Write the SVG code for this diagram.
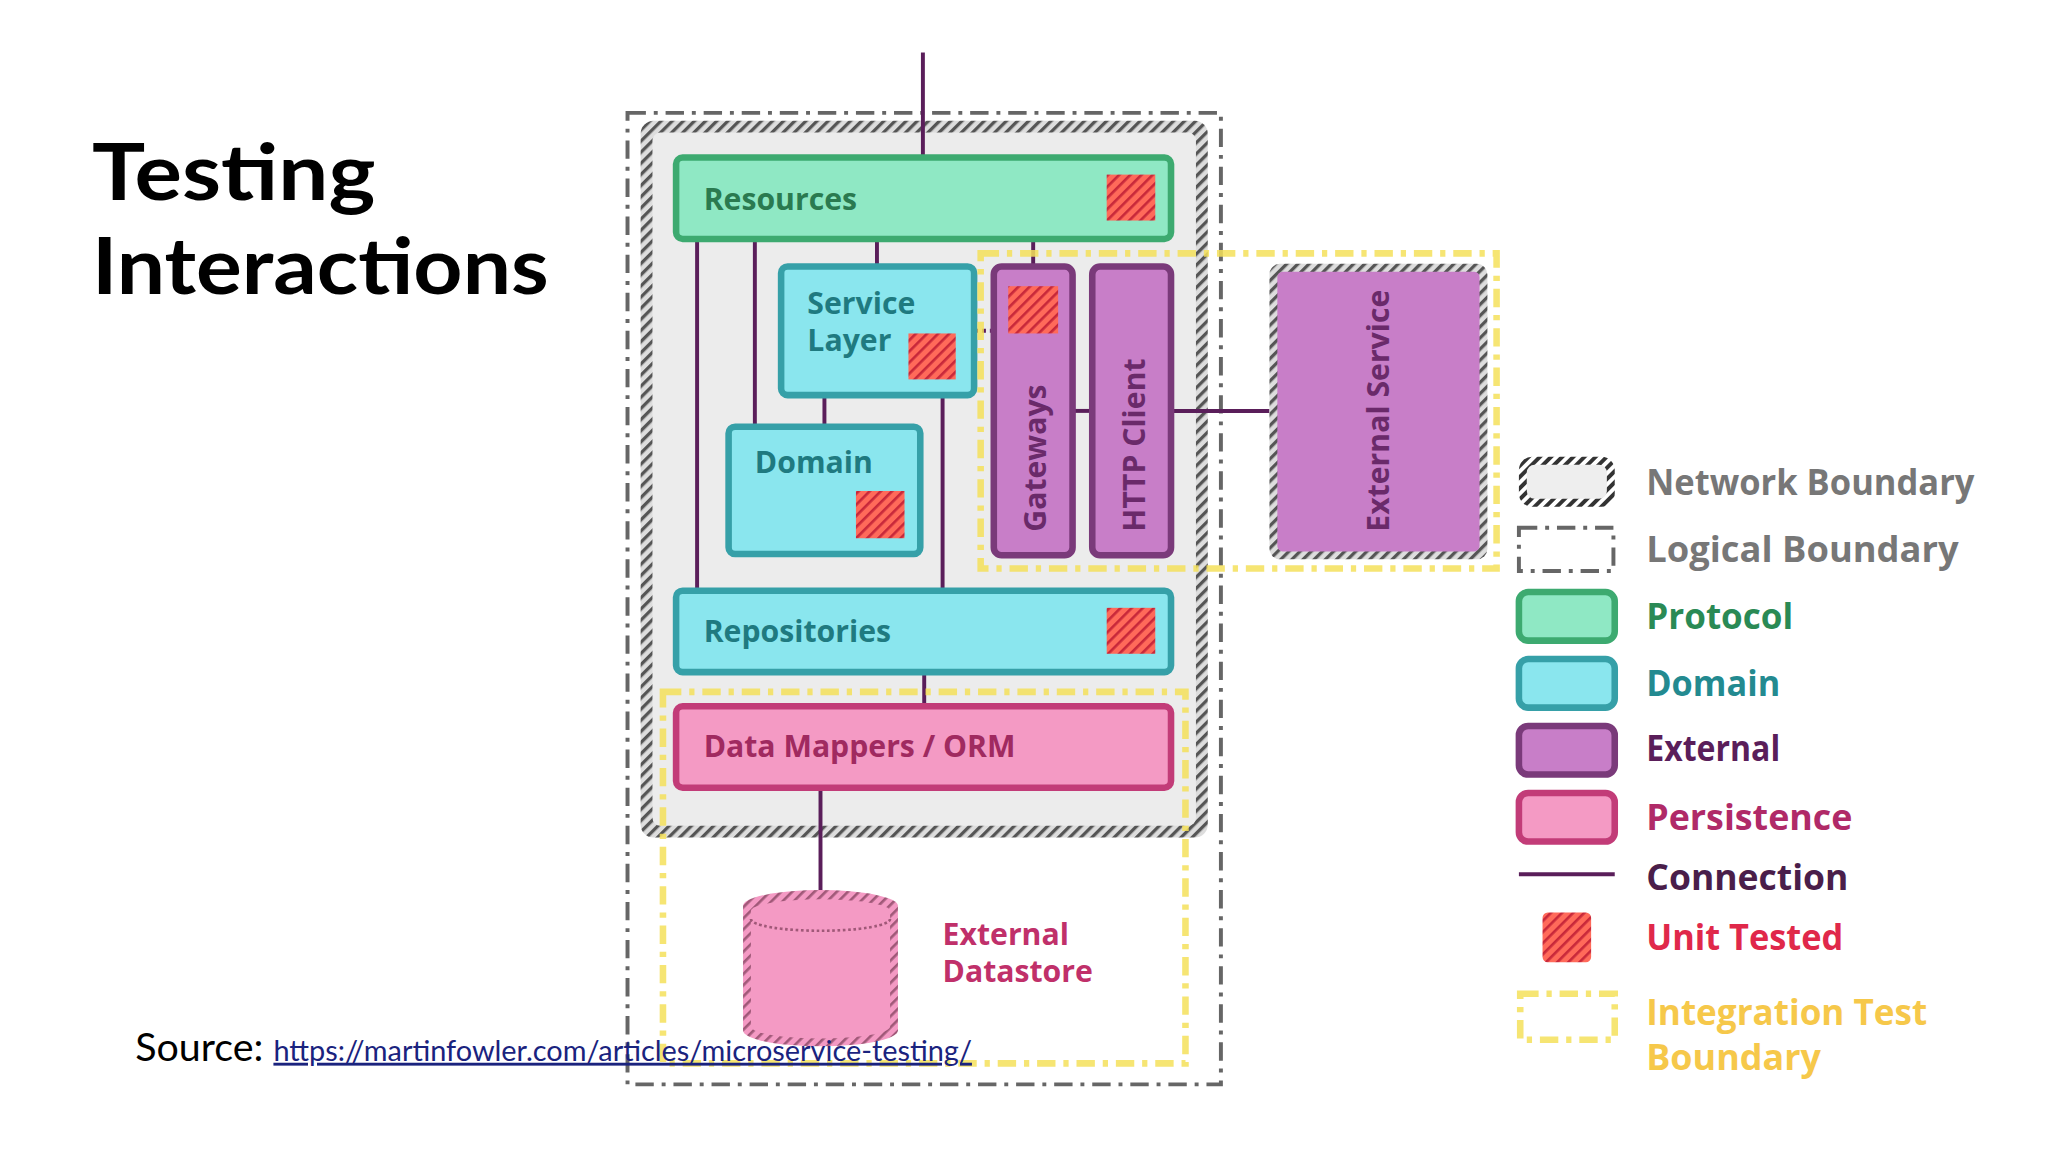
<svg xmlns="http://www.w3.org/2000/svg" width="2048" height="1152" viewBox="0 0 2048 1152">
<defs>
<pattern id="red" width="6" height="6" patternUnits="userSpaceOnUse" patternTransform="rotate(45)"><rect width="6" height="6" fill="#ff6a5a"/><rect width="2" height="6" fill="#c8283a"/></pattern>
<pattern id="bw" width="6" height="6" patternUnits="userSpaceOnUse" patternTransform="rotate(45)"><rect width="6" height="6" fill="#fff"/><rect width="3" height="6" fill="#333"/></pattern>
<pattern id="pk" width="6" height="6" patternUnits="userSpaceOnUse" patternTransform="rotate(45)"><rect width="6" height="6" fill="#f49ac4"/><rect width="2" height="6" fill="#a05878"/></pattern>
<pattern id="pp" width="6" height="6" patternUnits="userSpaceOnUse" patternTransform="rotate(45)"><rect width="6" height="6" fill="#ddd"/><rect width="2.5" height="6" fill="#555"/></pattern>
</defs>
<style>
.t{font-family:"Open Sans",sans-serif;font-weight:700}
.proto{fill:#8fe8c4;stroke:#3daa70;stroke-width:5}
.dom{fill:#8ae6ee;stroke:#36a0a8;stroke-width:5}
.ext{fill:#c87ec8;stroke:#7a3a7a;stroke-width:5}
.per{fill:#f49ac4;stroke:#c23c78;stroke-width:5}
.ut{fill:url(#red)}
.c{stroke:#5a1e5a;stroke-width:3;fill:none}
.logi{fill:none;stroke:#666;stroke-width:3;stroke-dasharray:14 6 3 6}
.integ{fill:none;stroke:#f4e15a;stroke-width:5;stroke-dasharray:14 6 4 6;opacity:.85}
</style>
<rect width="2048" height="1152" fill="#fff"/>
<g transform="scale(1.3128)">
<g id="title"><text x="70" y="152" font-family="Lato,sans-serif" font-weight="700" font-size="60" fill="#000" textLength="216" lengthAdjust="spacingAndGlyphs">Testing</text><text x="70" y="224" font-family="Lato,sans-serif" font-weight="700" font-size="60" fill="#000" textLength="348" lengthAdjust="spacingAndGlyphs">Interactions</text></g>

<g id="logical"><rect x="478" y="86" width="452" height="740" class="logi"/></g>
<g id="network"><rect x="488" y="92" width="432" height="546" rx="10" fill="url(#pp)"/><rect x="497" y="101" width="414" height="528" rx="6" fill="#ececec"/></g>

<g id="connectors">
<line x1="703" y1="40" x2="703" y2="120" class="c"/>
<line x1="531" y1="182" x2="531" y2="450" class="c"/>
<line x1="575" y1="182" x2="575" y2="325" class="c"/>
<line x1="668" y1="182" x2="668" y2="203" class="c"/>
<line x1="787" y1="182" x2="787" y2="203" class="c"/>
<line x1="628" y1="301" x2="628" y2="325" class="c"/>
<line x1="718" y1="301" x2="718" y2="450" class="c"/>
<line x1="742" y1="252" x2="757" y2="252" class="c" stroke-dasharray="3 3"/>
<line x1="817" y1="313" x2="832" y2="313" class="c"/>
<line x1="892" y1="313" x2="967" y2="313" class="c"/>
<line x1="704" y1="512" x2="704" y2="538" class="c"/>
<line x1="625" y1="600" x2="625" y2="680" class="c"/>
</g>

<g id="resources"><rect x="515" y="120" width="377" height="62" rx="5" class="proto"/><text x="536" y="160" class="t" font-size="23" fill="#2a7a50">Resources</text><rect x="843" y="133" width="37" height="35" class="ut"/></g>
<g id="service"><rect x="595" y="203" width="147" height="98" rx="5" class="dom"/><text x="615" y="239" class="t" font-size="23" fill="#1f7a80">Service</text><text x="615" y="267" class="t" font-size="23" fill="#1f7a80">Layer</text><rect x="692" y="254" width="36" height="35" class="ut"/></g>
<g id="domain"><rect x="555" y="325" width="146" height="97" rx="5" class="dom"/><text x="575" y="360" class="t" font-size="23" fill="#1f7a80">Domain</text><rect x="652" y="374" width="37" height="36" class="ut"/></g>
<g id="gateways"><rect x="757" y="203" width="60" height="220" rx="6" class="ext"/><rect x="768" y="218" width="38" height="36" class="ut"/><text transform="translate(797,405) rotate(-90)" class="t" font-size="23" fill="#6a2a6a">Gateways</text></g>
<g id="http"><rect x="832" y="203" width="60" height="220" rx="6" class="ext"/><text transform="translate(872,405) rotate(-90)" class="t" font-size="23" fill="#6a2a6a">HTTP Client</text></g>
<g id="extservice"><rect x="967" y="201" width="166" height="225" rx="8" fill="url(#pp)"/><rect x="973" y="207" width="154" height="213" rx="4" fill="#c87ec8"/><text transform="translate(1058,405) rotate(-90)" class="t" font-size="23" fill="#6a2a6a">External Service</text></g>
<g id="repositories"><rect x="515" y="450" width="377" height="62" rx="5" class="dom"/><text x="536" y="489" class="t" font-size="23" fill="#1f7a80">Repositories</text><rect x="843" y="463" width="37" height="35" class="ut"/></g>
<g id="datamappers"><rect x="515" y="538" width="377" height="62" rx="5" class="per"/><text x="536" y="577" class="t" font-size="23" fill="#a02a60">Data Mappers / ORM</text></g>
<g id="datastore"><path d="M566 690 A59 12 0 0 1 684 690 L684 785 A59 12 0 0 1 566 785 Z" fill="url(#pk)"/><path d="M572 694 A53 9 0 0 1 678 694 L678 782 A53 9 0 0 1 572 782 Z" fill="#f49ac4"/><path d="M572 700 A53 9 0 0 0 678 700" fill="none" stroke="#a05878" stroke-width="2" stroke-dasharray="2 2"/><text x="718" y="720" class="t" font-size="23" fill="#c0306a">External</text><text x="718" y="748" class="t" font-size="23" fill="#c0306a">Datastore</text></g>

<g id="integ1"><rect x="747" y="193" width="393" height="240" class="integ"/></g>
<g id="integ2"><rect x="505" y="527" width="398" height="283" class="integ"/></g>

<g id="legend">
<rect x="1157" y="348" width="73" height="38" rx="10" fill="url(#bw)"/><rect x="1163" y="354" width="61" height="26" rx="6" fill="#eee"/>
<text x="1254" y="377" class="t" font-size="27" fill="#777" textLength="250" lengthAdjust="spacingAndGlyphs">Network Boundary</text>
<rect x="1157" y="402" width="72" height="33" class="logi" stroke-width="2.5"/>
<text x="1254" y="428" class="t" font-size="27" fill="#777" textLength="238" lengthAdjust="spacingAndGlyphs">Logical Boundary</text>
<rect x="1157" y="451" width="73" height="37" rx="7" class="proto"/>
<text x="1254" y="479" class="t" font-size="27" fill="#2a8a55" textLength="112" lengthAdjust="spacingAndGlyphs">Protocol</text>
<rect x="1157" y="502" width="73" height="37" rx="7" class="dom"/>
<text x="1254" y="530" class="t" font-size="27" fill="#238a90" textLength="102" lengthAdjust="spacingAndGlyphs">Domain</text>
<rect x="1157" y="553" width="73" height="37" rx="7" class="ext"/>
<text x="1254" y="580" class="t" font-size="27" fill="#5a1e5a" textLength="102" lengthAdjust="spacingAndGlyphs">External</text>
<rect x="1157" y="604" width="73" height="37" rx="7" class="per"/>
<text x="1254" y="632" class="t" font-size="27" fill="#b02a68" textLength="157" lengthAdjust="spacingAndGlyphs">Persistence</text>
<line x1="1157" y1="666" x2="1230" y2="666" class="c"/>
<text x="1254" y="678" class="t" font-size="27" fill="#4a1e4a" textLength="154" lengthAdjust="spacingAndGlyphs">Connection</text>
<rect x="1175" y="695" width="37" height="38" rx="4" class="ut"/>
<text x="1254" y="724" class="t" font-size="27" fill="#e0284a" textLength="150" lengthAdjust="spacingAndGlyphs">Unit Tested</text>
<rect x="1158" y="757" width="72" height="35" class="integ" stroke-width="4"/>
<text x="1254" y="781" class="t" font-size="27" fill="#f6c84a" textLength="214" lengthAdjust="spacingAndGlyphs">Integration Test</text>
<text x="1254" y="815" class="t" font-size="27" fill="#f6c84a" textLength="133" lengthAdjust="spacingAndGlyphs">Boundary</text>
</g>

<g id="source"><text x="103" y="808" font-family="Lato,sans-serif" font-size="30" fill="#000">Source: <tspan font-size="22" fill="#1a237e" text-decoration="underline">https://martinfowler.com/articles/microservice-testing/</tspan></text></g>
</g>
</svg>
